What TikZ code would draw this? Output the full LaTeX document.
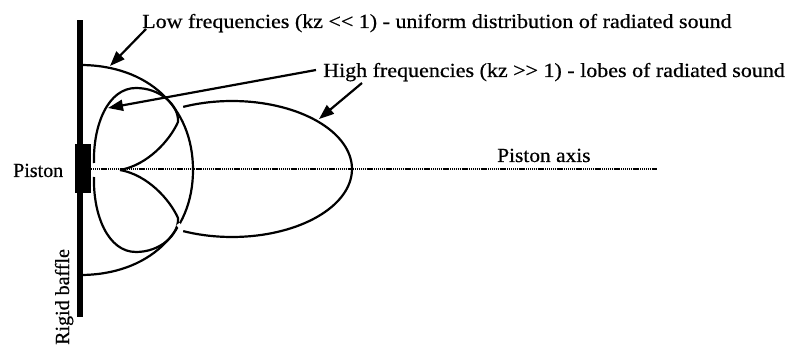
\documentclass[tikz,border=0pt]{standalone}
\usepackage{fontspec}
\setmainfont[FakeBold=0.6]{Liberation Serif}
\usetikzlibrary{arrows.meta}
\begin{document}
\begin{tikzpicture}[x=1pt,y=-1pt,
  curve/.style={line width=2.2pt},
  arr/.style={line width=2.2pt,-{Triangle[length=15pt,width=11pt]}},
  lbl/.style={inner sep=0pt,font=\fontsize{20}{24}\selectfont},
  axisline/.style={line width=1.8pt,dash pattern=on 1.2pt off 0.7pt}]
\useasboundingbox (0,0) rectangle (792,347);
% baffle and piston
\fill (77,20) rectangle (83,317);
\node[fill=black,minimum width=16pt,minimum height=49pt,inner sep=0pt] (piston) at (83,168.5) {};
% axis
\coordinate (axs) at (91,169);
\coordinate (axe) at (657,169);
\draw[axisline] (axs) -- (axe);
% low frequency half circle
\draw[curve] (80,65) .. controls (148,65) and (193,107) .. (193,170)
   .. controls (193,233) and (148,275) .. (80,275);
% upper side lobe
\draw[curve] (94,163) .. controls (93,125) and (108,88) .. (136,88)
   .. controls (160,88) and (179,105) .. (178,122)
   .. controls (170,140) and (148,165) .. (120,170);
% lower side lobe
\draw[curve] (94,177) .. controls (93,215) and (108,252) .. (136,252)
   .. controls (160,252) and (179,235) .. (178,218)
   .. controls (170,200) and (148,175) .. (120,170);
% main lobe
\draw[white,line width=4pt] (178,224) -- (181,228);
\draw[curve] plot[domain=114:-114,samples=90] ({232+120*cos(\x)},{169-68*sin(\x)});
% labels
\node[lbl,anchor=base west] (low) at (142,28) {\scalebox{1.1}[1]{Low frequencies (kz {<}{<} 1) - uniform distribution of radiated sound}};
\node[lbl,anchor=base west] (high) at (323,77) {\scalebox{1.1}[1]{High frequencies (kz {>}{>} 1) - lobes of radiated sound}};
\node[lbl,anchor=base west] (pist) at (13,177) {Piston};
\node[lbl,anchor=base west] (axtxt) at (497,162) {\scalebox{1.07}[1]{Piston axis}};
\node[lbl,anchor=base west,rotate=90] (baffle) at (69,345) {Rigid baffle};
% arrows
\coordinate (a1s) at (146,29);
\coordinate (a1e) at (110,66);
\coordinate (a2s) at (316,70);
\coordinate (a2e) at (108,108);
\coordinate (a3s) at (362,83);
\coordinate (a3e) at (319,119);
\draw[arr] (a1s) -- (a1e);
\draw[arr] (a2s) -- (a2e);
\draw[arr] (a3s) -- (a3e);
\end{tikzpicture}
\end{document}
